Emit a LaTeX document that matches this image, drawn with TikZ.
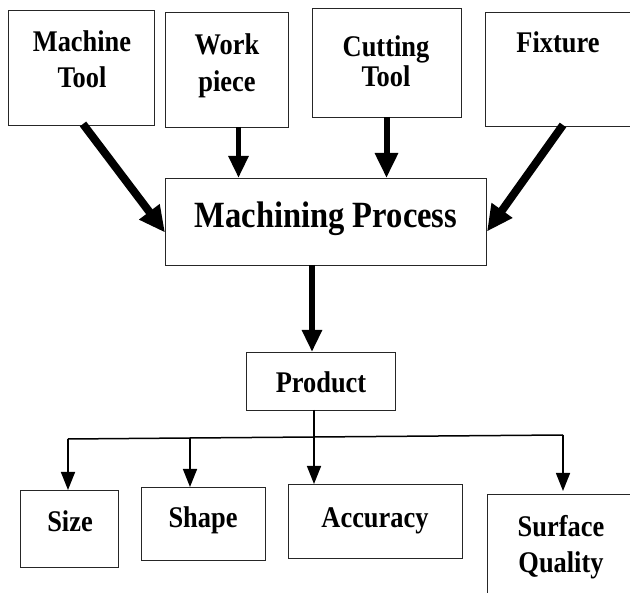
\documentclass[tikz,border=0pt]{standalone}
\usepackage{fontspec}
\setmainfont{Liberation Serif}[FakeStretch=0.88]
\usetikzlibrary{arrows.meta,calc}

\tikzset{
  box/.style={draw=black!85, line width=0.9pt, inner sep=0pt, outer sep=0pt,
              anchor=north west},
  lbl/.style={inner sep=0pt, anchor=base, font=\fontsize{30}{30}\selectfont\bfseries},
  biglbl/.style={inner sep=0pt, anchor=base, font=\fontsize{37}{37}\selectfont\bfseries},
  heavy/.style={line width=8pt, -{Triangle[width=24pt,length=26pt]}},
  medium/.style={line width=5.5pt, -{Triangle[width=19pt,length=22pt]}},
  light/.style={line width=1.5pt, -{Triangle[width=14pt,length=18pt]}},
  busline/.style={line width=1.5pt}
}

\begin{document}
\begin{tikzpicture}[x=1pt,y=-1pt]
\useasboundingbox (0,0) rectangle (630,593);

% input boxes
\node[box, minimum width=146pt, minimum height=115pt] (mt) at (8,10) {};
\node[box, minimum width=123pt, minimum height=115pt] (wp) at (165,12) {};
\node[box, minimum width=149pt, minimum height=109pt] (ct) at (312,8) {};
\node[box, minimum width=150pt, minimum height=114pt] (fx) at (485,12) {};

\node[lbl] (mt1) at (82,52) {Machine};
\node[lbl] (mt2) at (82,88) {Tool};
\node[lbl] (wp1) at (227,55) {Work};
\node[lbl] (wp2) at (227,92) {piece};
\node[lbl] (ct1) at (386,57) {Cutting};
\node[lbl] (ct2) at (386,87) {Tool};
\node[lbl] (fx1) at (558,53) {Fixture};

% process
\node[box, minimum width=321pt, minimum height=87pt] (mp) at (165,178) {};
\node[biglbl] (mpt) at (326,228) {Machining Process};

% product
\node[box, minimum width=149pt, minimum height=58pt] (pr) at (246,352) {};
\node[lbl] (prt) at (321,393) {Product};

% outputs
\node[box, minimum width=98pt, minimum height=77pt] (sz) at (20,490) {};
\node[box, minimum width=124pt, minimum height=73pt] (sh) at (141,487) {};
\node[box, minimum width=174pt, minimum height=74pt] (ac) at (288,484) {};
\node[box, minimum width=160pt, minimum height=110pt] (sq) at (487,494) {};

\node[lbl] (szt) at (70,532) {Size};
\node[lbl] (sht) at (203,528) {Shape};
\node[lbl] (act) at (375,528) {Accuracy};
\node[lbl] (sq1) at (561,537) {Surface};
\node[lbl] (sq2) at (561,573) {Quality};

% start points of the vertical feeds
\coordinate (wpa) at ($(wp.south)+(12,0)$);
\coordinate (mpa) at ($(mp.south)+(-13.5,0)$);

% inputs into the process
\draw[heavy] ($(mt.south)+(2,-1)$) -- ($(mp.west)+(0,11)$);
\draw[medium] (wpa) -- (wpa |- mp.north);
\draw[medium, line width=6pt, -{Triangle[width=22pt,length=25pt]}] (ct.south) -- (ct.south |- mp.north);
\draw[heavy] ($(fx.south)+(3,-1)$) -- ($(mp.east)+(1,10)$);

% process to product
\draw[medium] (mpa) -- (mpa |- pr.north);

% product to outputs
\coordinate (bus) at (314,437);
\coordinate (b1) at (68,439);
\coordinate (b2) at (190,438);
\coordinate (b3) at (314,437);
\coordinate (b4) at (563,435);
\draw[busline] (pr.south -| bus) -- (bus);
\draw[busline] (b1) -- (b2) -- (b3) -- (b4);
\draw[light] (b1) -- (b1 |- sz.north);
\draw[light] (b2) -- (b2 |- sh.north);
\draw[light] (b3) -- (b3 |- ac.north);
\draw[light] (b4) -- ($(b4 |- sq.north)+(0,-3)$);
\end{tikzpicture}
\end{document}
